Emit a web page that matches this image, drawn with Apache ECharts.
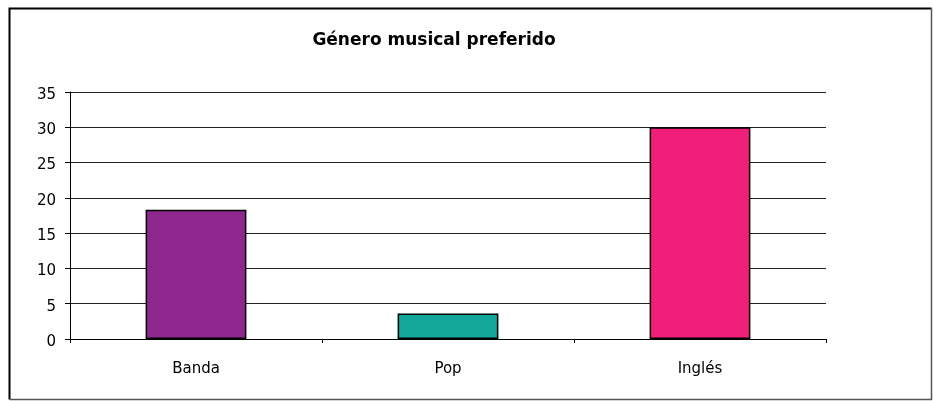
<!DOCTYPE html>
<html>
<head>
<meta charset="utf-8">
<script src="https://cdn.jsdelivr.net/npm/echarts@6/dist/echarts.min.js"></script>
<style>
  html, body { margin: 0; padding: 0; background: #fff; }
  #chart { width: 933px; height: 401px; }
</style>
</head>
<body>
<div id="chart"></div>
<script>
// Preferred music genre survey
const categories = ['Banda', 'Pop', 'Inglés'];
const values = [18.3, 3.6, 30];
const barColors = ['#8E278E', '#13A89A', '#EF1F7A'];
const yTicks = [0, 5, 10, 15, 20, 25, 30, 35];

const FONT = '"DejaVu Sans", "Liberation Sans", Arial, sans-serif';

const chart = echarts.init(document.getElementById('chart'), null, { renderer: 'canvas' });

chart.setOption({
  animation: false,
  backgroundColor: '#ffffff',
  title: {
    text: 'Género musical preferido',
    left: 429,
    top: 27,
    textAlign: 'center',
    textStyle: { fontFamily: FONT, fontSize: 17, fontWeight: 'bold', color: '#000' }
  },
  graphic: [
    {
      // chart frame: darker on the top/left edges
      type: 'polyline',
      shape: { points: [[9.5, 399.5], [9.5, 8.5], [931.5, 8.5]] },
      style: { stroke: '#000', lineWidth: 2, fill: null },
      silent: true
    },
    {
      type: 'polyline',
      shape: { points: [[931.5, 8.5], [931.5, 399.5], [9.5, 399.5]] },
      style: { stroke: '#555', lineWidth: 1.5, fill: null },
      silent: true
    }
  ],
  grid: { left: 70, right: 107, top: 92, bottom: 62, containLabel: false },
  xAxis: {
    type: 'category',
    data: categories,
    axisLine: { lineStyle: { color: '#000', width: 1 } },
    axisTick: { show: true, alignWithLabel: false, length: 4, lineStyle: { color: '#000' } },
    axisLabel: { margin: 23, fontFamily: FONT, fontSize: 15, color: '#000' }
  },
  yAxis: {
    type: 'value',
    min: yTicks[0],
    max: yTicks[yTicks.length - 1],
    interval: 5,
    axisLine: { show: true, lineStyle: { color: '#000', width: 1 } },
    axisTick: { show: true, length: 5, lineStyle: { color: '#000' } },
    axisLabel: { margin: 14, verticalAlign: 'top', lineHeight: 6, fontFamily: FONT, fontSize: 15, color: '#000' },
    splitLine: { show: true, lineStyle: { color: '#222', width: 1 } }
  },
  series: [{
    type: 'bar',
    data: values.map((v, i) => ({ value: v, itemStyle: { color: barColors[i] } })),
    barWidth: '40%',
    itemStyle: { borderColor: '#000', borderWidth: 1.5 }
  }]
});
</script>
</body>
</html>
